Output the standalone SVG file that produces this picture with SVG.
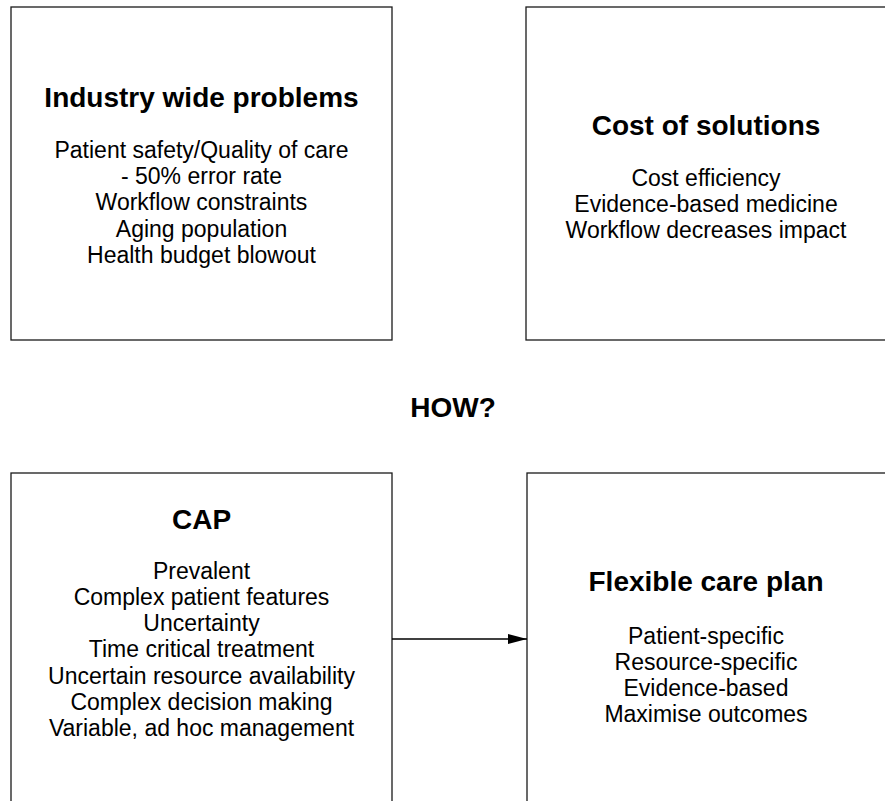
<svg xmlns="http://www.w3.org/2000/svg" width="885" height="801" viewBox="0 0 885 801">
<defs>
<style>
.box{fill:#fff;stroke:#1a1a1a;stroke-width:1.3}
.t{font-family:"Liberation Sans",Arial,sans-serif;font-weight:bold;font-size:28px;text-anchor:middle;fill:#000}
.b{font-family:"Liberation Sans",Arial,sans-serif;font-size:23px;text-anchor:middle;fill:#000}
.conn{stroke:#000;stroke-width:1.3;fill:none}
</style>
<marker id="arr" markerWidth="20" markerHeight="12" refX="19" refY="6" orient="auto" markerUnits="userSpaceOnUse">
<path d="M0,1 L19,6 L0,11 Z" fill="#000"/>
</marker>
</defs>
<rect width="885" height="801" fill="#fff"/>
<g id="industry">
<rect class="box" x="11" y="7" width="381" height="333"/>
<text class="t" x="201.5" y="107">Industry wide problems</text>
<text class="b" x="201.5" y="158">Patient safety/Quality of care</text>
<text class="b" x="201.5" y="184">- 50% error rate</text>
<text class="b" x="201.5" y="210">Workflow constraints</text>
<text class="b" x="201.5" y="237">Aging population</text>
<text class="b" x="201.5" y="263">Health budget blowout</text>
</g>
<g id="cost">
<rect class="box" x="526" y="7" width="362" height="333"/>
<text class="t" x="706" y="135">Cost of solutions</text>
<text class="b" x="706" y="186">Cost efficiency</text>
<text class="b" x="706" y="212">Evidence-based medicine</text>
<text class="b" x="706" y="238">Workflow decreases impact</text>
</g>
<g id="how">
<text class="t" x="453" y="417">HOW?</text>
</g>
<g id="cap">
<rect class="box" x="11" y="473" width="381" height="340"/>
<text class="t" x="201.5" y="529">CAP</text>
<text class="b" x="201.5" y="579">Prevalent</text>
<text class="b" x="201.5" y="605">Complex patient features</text>
<text class="b" x="201.5" y="631">Uncertainty</text>
<text class="b" x="201.5" y="657">Time critical treatment</text>
<text class="b" x="201.5" y="684">Uncertain resource availability</text>
<text class="b" x="201.5" y="710">Complex decision making</text>
<text class="b" x="201.5" y="736">Variable, ad hoc management</text>
</g>
<g id="flexible">
<rect class="box" x="527" y="473" width="361" height="340"/>
<text class="t" x="706" y="591">Flexible care plan</text>
<text class="b" x="706" y="644">Patient-specific</text>
<text class="b" x="706" y="670">Resource-specific</text>
<text class="b" x="706" y="696">Evidence-based</text>
<text class="b" x="706" y="722">Maximise outcomes</text>
</g>
<g id="connectors">
<line class="conn" x1="392" y1="639" x2="527" y2="639" marker-end="url(#arr)"/>
</g>
</svg>
